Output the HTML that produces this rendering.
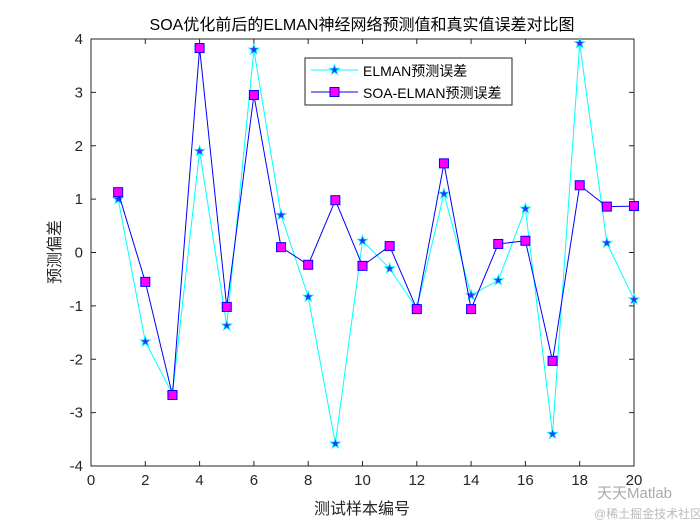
<!DOCTYPE html>
<html><head><meta charset="utf-8"><style>
body{margin:0;background:#fff;}
svg{display:block;font-family:"Liberation Sans","Noto Sans CJK SC",sans-serif;}
</style></head><body>
<svg id="chart" width="700" height="525" viewBox="0 0 700 525"></svg>
<script>
const categories=[1,2,3,4,5,6,7,8,9,10,11,12,13,14,15,16,17,18,19,20];
const elmanErrors=[1.0,-1.67,-2.65,1.9,-1.37,3.8,0.7,-0.83,-3.58,0.22,-0.3,-1.05,1.1,-0.8,-0.52,0.82,-3.4,3.92,0.18,-0.88];
const soaErrors=[1.13,-0.55,-2.67,3.83,-1.02,2.95,0.1,-0.23,0.98,-0.25,0.12,-1.06,1.67,-1.06,0.16,0.22,-2.03,1.26,0.86,0.87];
const xTicks=[0,2,4,6,8,10,12,14,16,18,20];
const yTicks=[-4,-3,-2,-1,0,1,2,3,4];
const L=91,R=634,T=39,B=466;
const xs=v=>L+(v-0)/(20-0)*(R-L);
const ys=v=>B-(v+4)/8*(B-T);
const svg=document.getElementById('chart');
const NS='http://www.w3.org/2000/svg';
function mk(tag,attrs,parent){const e=document.createElementNS(NS,tag);for(const k in attrs)e.setAttribute(k,attrs[k]);(parent||svg).appendChild(e);return e;}
function txt(s,attrs){const e=mk('text',attrs);e.textContent=s;return e;}
let ax=mk('rect',{x:L,y:T,width:R-L,height:B-T,fill:'#fff',stroke:'#262626','stroke-width':1});


xTicks.forEach(t=>{const x=xs(t);
 mk('line',{x1:x,x2:x,y1:B,y2:B-5,stroke:'#262626'});mk('line',{x1:x,x2:x,y1:T,y2:T+5,stroke:'#262626'});
 const e=txt(String(t),{x:x,y:B+19,'font-size':15,'text-anchor':'middle',fill:'#262626'});
 
 });
yTicks.forEach(t=>{const y=ys(t);
 mk('line',{x1:L,x2:L+5,y1:y,y2:y,stroke:'#262626'});mk('line',{x1:R,x2:R-5,y1:y,y2:y,stroke:'#262626'});
 const e=txt(String(t),{x:L-8,y:y+5,'font-size':15,'text-anchor':'end',fill:'#262626'});
 
 });
let t1=txt('SOA优化前后的ELMAN神经网络预测值和真实值误差对比图',{x:362,y:30,'font-size':16,'text-anchor':'middle',fill:'#000'});


let t2=txt('测试样本编号',{x:362,y:514,'font-size':16,'text-anchor':'middle',fill:'#262626'});


let t3=txt('预测偏差',{x:0,y:0,'font-size':16,'text-anchor':'middle',fill:'#262626',transform:'translate(60,252) rotate(-90)'});


function star(x,y,c,g){const p=[];for(let i=0;i<10;i++){const r=i%2?2.2:5.5,a=-Math.PI/2+i*Math.PI/5;p.push((x+r*Math.cos(a)).toFixed(1)+','+(y+r*Math.sin(a)).toFixed(1));}
 return mk('polygon',{points:p.join(' '),fill:'#3030ff',stroke:c,'stroke-width':0.8},g);}
// ELMAN
let g1=mk('g',{});


mk('polyline',{points:categories.map((c,i)=>xs(c)+','+ys(elmanErrors[i])).join(' '),fill:'none',stroke:'#00ffff','stroke-width':1},g1);
categories.forEach((c,i)=>{const s=star(xs(c),ys(elmanErrors[i]),'#00ffff',g1);
 
 });
// SOA
let g2=mk('g',{});


mk('polyline',{points:categories.map((c,i)=>xs(c)+','+ys(soaErrors[i])).join(' '),fill:'none',stroke:'#0000ff','stroke-width':1},g2);
categories.forEach((c,i)=>{const r=mk('rect',{x:xs(c)-4.5,y:ys(soaErrors[i])-4.5,width:9,height:9,fill:'#ff00ff',stroke:'#0000ff','stroke-width':1},g2);
 
 });
// legend
let lg=mk('g',{});


mk('rect',{x:305,y:58,width:207,height:47,fill:'#fff',stroke:'#262626','stroke-width':1},lg);
mk('line',{x1:311,x2:358,y1:70,y2:70,stroke:'#00ffff'},lg);star(334.5,70,'#00ffff',lg);
let le1=mk('text',{x:363,y:76,'font-size':14,fill:'#000'},lg);le1.textContent='ELMAN预测误差';


mk('line',{x1:311,x2:358,y1:92,y2:92,stroke:'#0000ff'},lg);
mk('rect',{x:330,y:87.5,width:9,height:9,fill:'#ff00ff',stroke:'#0000ff'},lg);
let le2=mk('text',{x:363,y:98,'font-size':14,fill:'#000'},lg);le2.textContent='SOA-ELMAN预测误差';


let w1=txt('天天Matlab',{x:597,y:498,'font-size':15,fill:'#aaa'});


let w2=txt('@稀土掘金技术社区',{x:594,y:518,'font-size':12,fill:'#bbb'});


</script>
</body></html>
